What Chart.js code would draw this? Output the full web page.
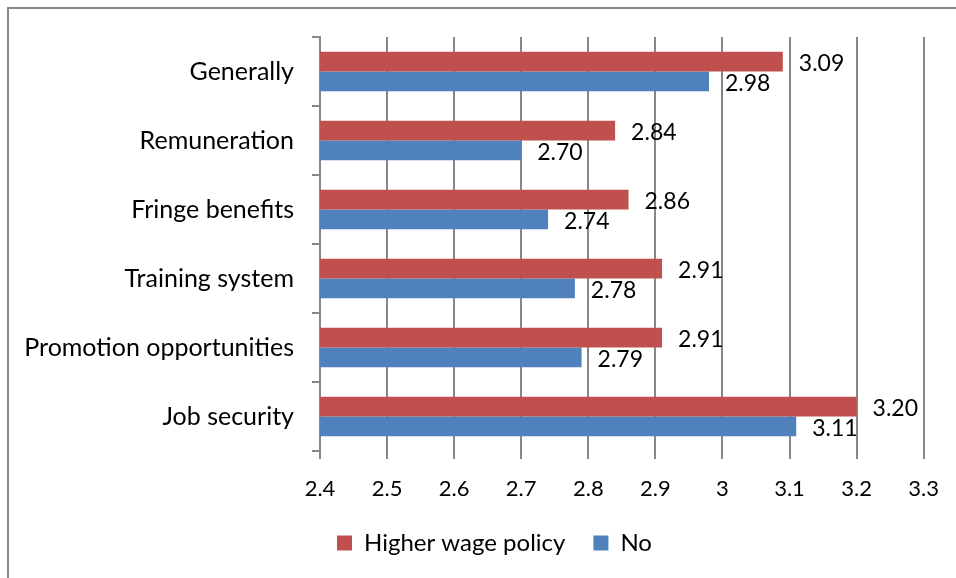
<!DOCTYPE html>
<html>
<head>
<meta charset="utf-8">
<script src="https://cdn.jsdelivr.net/npm/chart.js@4"></script>
<style>
  html, body { margin: 0; padding: 0; background: #fff; overflow: hidden; }
  #frame { position: absolute; left: 7px; top: 7px; width: 2000px; height: 2000px; border: 2px solid #898989; }
  #wrap { position: absolute; left: 0; top: 0; width: 956px; height: 578px; }
</style>
</head>
<body>
<div id="frame"></div>
<div id="wrap"><canvas id="myChart"></canvas></div>
<script>
'use strict';

// 카테고리, 시리즈 값
const categories = ['Generally', 'Remuneration', 'Fringe benefits', 'Training system', 'Promotion opportunities', 'Job security'];
const higherWage = [3.09, 2.84, 2.86, 2.91, 2.91, 3.20];
const noPolicy = [2.98, 2.70, 2.74, 2.78, 2.79, 3.11];
const xTicks = [2.4, 2.5, 2.6, 2.7, 2.8, 2.9, 3, 3.1, 3.2, 3.3];

const FONT = 'Lato, "Open Sans", sans-serif';
const gridColor = '#878787';

// 막대 끝에 값 표시
const valueLabels = {
    id: 'valueLabels',
    afterLayout(chart) {
        // 범례를 원본처럼 약간 오른쪽으로
        chart.legend.left += 30;
        chart.legend.right += 30;
    },
    afterDatasetsDraw(chart) {
        const ctx = chart.ctx;
        ctx.save();
        ctx.font = '23px ' + FONT;
        ctx.fillStyle = '#000';
        ctx.textBaseline = 'middle';
        ctx.textAlign = 'left';
        chart.data.datasets.forEach(function (ds, i) {
            const meta = chart.getDatasetMeta(i);
            meta.data.forEach(function (bar, j) {
                ctx.fillText(ds.data[j].toFixed(2), bar.x + 16, bar.y + 2);
            });
        });
        ctx.restore();
    }
};

const data = {
    labels: categories,
    datasets: [{
        label: 'Higher wage policy',
        backgroundColor: '#C0504D',
        data: higherWage
    }, {
        label: 'No',
        backgroundColor: '#4F81BD',
        data: noPolicy
    }]
};

const config = {
    type: 'bar',
    data,
    plugins: [valueLabels],
    options: {
        indexAxis: 'y',
        responsive: true,
        maintainAspectRatio: false,
        animation: false,
        datasets: {
            bar: { categoryPercentage: 0.57, barPercentage: 1.0 }
        },
        layout: { padding: { top: 37, right: 27, left: 0, bottom: 13 } },
        scales: {
            x: {
                min: 2.4,
                max: 3.3,
                afterBuildTicks: function (scale) {
                    scale.ticks = xTicks.map(function (v) { return { value: v }; });
                },
                afterFit: function (scale) { scale.height = 52; },
                grid: { color: gridColor, lineWidth: 2, tickLength: 8, drawTicks: true },
                border: { display: false },
                ticks: {
                    color: '#000',
                    font: { family: FONT, size: 22 },
                    padding: 17,
                    callback: function (v) { return String(Math.round(v * 10) / 10); }
                }
            },
            y: {
                afterFit: function (scale) { scale.width = 320; },
                grid: { offset: true, drawOnChartArea: false, color: gridColor, lineWidth: 2, tickLength: 8 },
                border: { color: gridColor, width: 2 },
                ticks: {
                    color: '#000',
                    font: { family: FONT, size: 25 },
                    padding: 18
                }
            }
        },
        plugins: {
            legend: {
                position: 'bottom',
                labels: {
                    color: '#000',
                    font: { family: FONT, size: 24 },
                    boxWidth: 15,
                    boxHeight: 15,
                    padding: 28
                }
            },
            tooltip: { enabled: false }
        }
    }
};

var myChart = new Chart(document.getElementById('myChart'), config);
</script>
</body>
</html>
